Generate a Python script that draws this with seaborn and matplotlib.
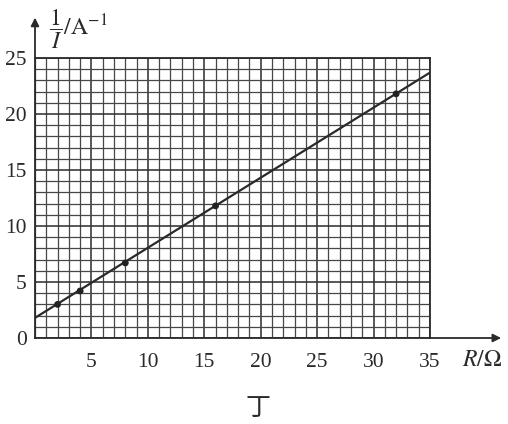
import numpy as np
import pandas as pd
import matplotlib
matplotlib.use("Agg")
import matplotlib.pyplot as plt
import seaborn as sns

# data
R_vals = [2, 4, 8, 16, 32]
invI_vals = [3.0, 4.2, 6.7, 11.8, 21.8]
fit_R = [0, 35]
fit_invI = [1.8, 23.7]
x_ticks = [5, 10, 15, 20, 25, 30, 35]
y_ticks = [0, 5, 10, 15, 20, 25]

sns.set_theme(style="white")
plt.rcParams['font.family'] = ['Liberation Serif', 'DejaVu Serif']
plt.rcParams['mathtext.fontset'] = 'stix'

fig = plt.figure(figsize=(5.08, 4.24), dpi=100)
ax = fig.add_axes([35/508, (424-338)/424, 395/508, 280/424])
ax.set_xlim(0, 35)
ax.set_ylim(0, 25)

# grid
ax.set_xticks(np.arange(0, 36, 1), minor=True)
ax.set_yticks(np.arange(0, 26, 1), minor=True)
ax.set_xticks(x_ticks)
ax.set_yticks(y_ticks)
ax.grid(which='minor', color='#474747', lw=0.9)
ax.grid(which='major', color='#333333', lw=1.15)
ax.set_axisbelow(True)
ax.tick_params(which='both', length=0)
ax.tick_params(axis='x', pad=11, labelsize=15.5, colors='#2a2a2a')
ax.tick_params(axis='y', pad=6, labelsize=15.5, colors='#2a2a2a')
for s in ax.spines.values():
    s.set_color('#2a2a2a')
    s.set_linewidth(1.3)

df_fit = pd.DataFrame({'R': fit_R, 'invI': fit_invI})
df_pts = pd.DataFrame({'R': R_vals, 'invI': invI_vals})
sns.lineplot(data=df_fit, x='R', y='invI', ax=ax, color='#2a2a2a', lw=1.6, zorder=3)
sns.scatterplot(data=df_pts, x='R', y='invI', ax=ax, color='#222222', s=24,
                edgecolor='none', zorder=4)
ax.set_xlabel('')
ax.set_ylabel('')
ax.set_xlim(0, 35)
ax.set_ylim(0, 25)

# arrows for axes
ax.annotate('', xy=(41.3, 0), xytext=(35, 0), xycoords='data',
            arrowprops=dict(arrowstyle='-|>', color='#2a2a2a', lw=1.3,
                            mutation_scale=12, shrinkA=0, shrinkB=0),
            annotation_clip=False)
ax.annotate('', xy=(0, 28.6), xytext=(0, 25), xycoords='data',
            arrowprops=dict(arrowstyle='-|>', color='#2a2a2a', lw=1.3,
                            mutation_scale=12, shrinkA=0, shrinkB=0),
            annotation_clip=False)

fig.text(482/508, 1 - 361/424, r'$R/\Omega$', fontsize=17, ha='center', va='center',
         color='#2a2a2a')
fig.text(49/508, 1 - 29/424, r'$\dfrac{1}{I}/\mathrm{A}^{-1}$', fontsize=17,
         ha='left', va='center', color='#2a2a2a')
fig.text(258/508, 1 - 408/424, '丁', fontsize=18, ha='center', va='center',
         family=['Noto Sans CJK SC', 'DejaVu Sans'], color='#2a2a2a')

fig.savefig('out.png', dpi=100, facecolor='white')
